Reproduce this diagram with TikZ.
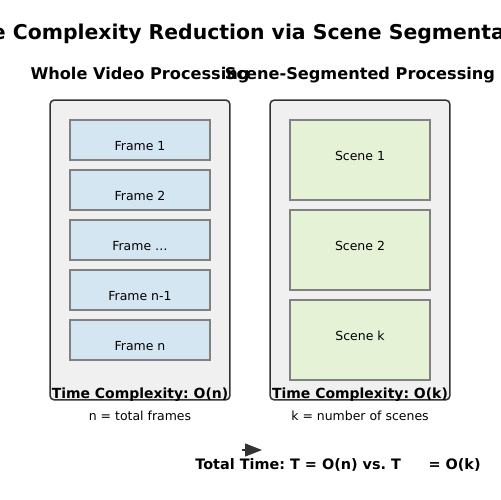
\documentclass[tikz,border=0pt]{standalone}
\usepackage{fontspec}
\setmainfont{DejaVu Sans}
\frenchspacing
\usetikzlibrary{positioning, arrows.meta}
\definecolor{panelFill}{HTML}{F0F0F0}
\definecolor{panelLine}{HTML}{333333}
\definecolor{frameFill}{HTML}{D4E6F1}
\definecolor{sceneFill}{HTML}{E5F2D5}
\definecolor{boxLine}{HTML}{808080}
\tikzset{
    panel_box/.style={
        draw=panelLine,
        fill=panelFill,
        line width=0.85pt,
        rounded corners=2.5pt,
        minimum width=3.6cm,
        minimum height=6cm
    },
    frame_box/.style={
        draw=boxLine,
        fill=frameFill,
        line width=0.6pt,
        minimum width=2.8cm,
        minimum height=0.8cm
    },
    scene_box/.style={
        draw=boxLine,
        fill=sceneFill,
        line width=0.6pt,
        minimum width=2.8cm,
        minimum height=1.6cm
    },
    box_text/.style={font=\fontsize{7.1pt}{8pt}\selectfont},
    title_text/.style={font=\fontsize{11.6pt}{13pt}\selectfont\bfseries},
    head_text/.style={font=\fontsize{9.2pt}{11pt}\selectfont\bfseries},
    cost_text/.style={font=\fontsize{7.95pt}{9pt}\selectfont\bfseries},
    total_text/.style={font=\fontsize{8.2pt}{10pt}\selectfont\bfseries},
    note_text/.style={font=\fontsize{7.1pt}{8pt}\selectfont},
    total_arrow/.style={
        -{Triangle[length=0.34cm, width=0.26cm]},
        draw=panelLine,
        fill=panelLine,
        line width=0.6pt
    }
}
\begin{document}
\begin{tikzpicture}[x=0.02cm, y=-0.02cm]
    \useasboundingbox (0,0) rectangle (500,500);

    \node[title_text] (title) at (250,34) {Time Complexity Reduction via Scene Segmentation};
    \node[head_text] (whole_head) at (140,75) {Whole Video Processing};
    \node[head_text] (scene_head) at (360,75) {Scene-Segmented Processing};

    \node[panel_box] (whole) at (140,250) {};
    \node[panel_box] (segmented) at (360,250) {};

    % frames of the whole video
    \foreach \lab [count=\i] in {1, 2, \ldots, n-1, n}
        \node[frame_box, label={[box_text, yshift=-0.12cm]center:Frame \lab}]
            (f\i) at (140,{90+50*\i}) {};

    % scenes
    \foreach \lab [count=\i] in {1, 2, k}
        \node[scene_box, label={[box_text, yshift=0.08cm]center:Scene \lab}]
            (s\i) at (360,{70+90*\i}) {};

    \node[cost_text] (whole_cost) at (140,395) {Time Complexity: O(n)};
    \node[note_text] (whole_note) at (140,416) {n = total frames};
    \node[cost_text] (scene_cost) at (360,395) {Time Complexity: O(k)};
    \node[note_text] (scene_note) at (360,416) {k = number of scenes};

    \coordinate (arr_a) at (242,450);
    \coordinate (arr_b) at (262,450);
    \draw[total_arrow] (arr_a) -- (arr_b);

    \node[total_text] (total) at (338,465)
        {Total Time: T = O(n) vs. T\hspace{0.55cm}= O(k)};
\end{tikzpicture}
\end{document}
